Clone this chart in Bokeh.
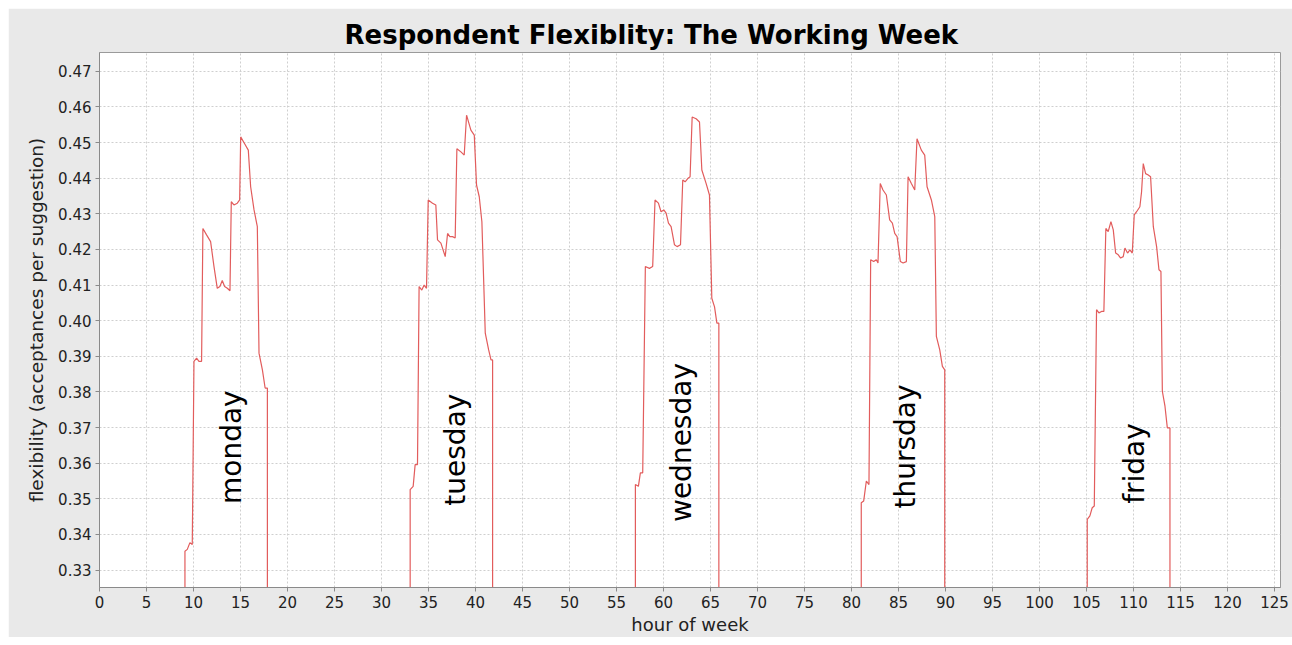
from bokeh.plotting import figure
from bokeh.models import Range1d, FixedTicker, Title, ColumnDataSource, PrintfTickFormatter
from bokeh.core.properties import value
from bokeh.embed import file_html
from bokeh.resources import INLINE
import math

# ---------------- data ----------------
mon_hours = [9.09, 9.34, 9.62, 9.87, 10.05, 10.33, 10.58, 10.86, 11.0, 11.39, 11.82, 12.18, 12.53, 12.81,
             13.06, 13.31, 13.6, 13.88, 14.02, 14.3, 14.66, 14.91, 15.02, 15.44, 15.83, 16.08, 16.44,
             16.79, 16.97, 17.33, 17.62, 17.86]
mon_flex = [0.3353, 0.3358, 0.3377, 0.3372, 0.3886, 0.3895, 0.3886, 0.3886, 0.4259, 0.4241, 0.4222, 0.4152,
            0.4091, 0.4096, 0.4113, 0.4096, 0.4091, 0.4084, 0.4334, 0.4325, 0.4330, 0.4339, 0.4516, 0.4497,
            0.4479, 0.4376, 0.4311, 0.4264, 0.3909, 0.3862, 0.3811, 0.3811]

tue_hours = [33.05, 33.37, 33.58, 33.83, 34.0, 34.29, 34.54, 34.79, 34.97, 35.43, 35.78, 35.96, 36.32, 36.78,
             37.03, 37.27, 37.56, 37.84, 38.02, 38.45, 38.8, 39.05, 39.51, 39.87, 40.11, 40.4, 40.68, 41.04,
             41.4, 41.65, 41.82]
tue_flex = [0.3526, 0.3535, 0.3596, 0.3596, 0.4096, 0.4086, 0.4100, 0.4091, 0.4339, 0.4330, 0.4325, 0.4227,
            0.4218, 0.4180, 0.4245, 0.4236, 0.4236, 0.4232, 0.4483, 0.4474, 0.4465, 0.4577, 0.4535, 0.4521,
            0.4381, 0.4348, 0.4278, 0.3965, 0.3918, 0.3890, 0.3890]

wed_hours = [57.01, 57.33, 57.54, 57.79, 58.07, 58.5, 58.85, 59.1, 59.46, 59.74, 60.03, 60.28, 60.53, 60.81,
             61.17, 61.45, 61.81, 62.05, 62.3, 62.58, 62.83, 63.05, 63.47, 63.83, 64.08, 64.54, 64.89, 65.14,
             65.43, 65.68, 65.89]
wed_flex = [0.3540, 0.3535, 0.3573, 0.3573, 0.4152, 0.4147, 0.4152, 0.4339, 0.4330, 0.4306, 0.4311, 0.4302,
            0.4274, 0.4264, 0.4213, 0.4208, 0.4213, 0.4395, 0.4390, 0.4399, 0.4404, 0.4572, 0.4567, 0.4558,
            0.4423, 0.4385, 0.4353, 0.4063, 0.4039, 0.3993, 0.3993]

thu_hours = [81.04, 81.3, 81.58, 81.86, 82.04, 82.36, 82.64, 82.82, 83.06, 83.35, 83.71, 84.06, 84.35, 84.6,
             84.85, 85.2, 85.49, 85.84, 86.02, 86.37, 86.73, 86.97, 87.43, 87.79, 88.04, 88.5, 88.86, 89.03,
             89.39, 89.67, 89.92]
thu_flex = [0.3489, 0.3494, 0.3550, 0.3540, 0.4171, 0.4166, 0.4171, 0.4162, 0.4385, 0.4367, 0.4353, 0.4283,
            0.4274, 0.4245, 0.4236, 0.4166, 0.4162, 0.4166, 0.4404, 0.4385, 0.4367, 0.4511, 0.4479, 0.4465,
            0.4376, 0.4339, 0.4292, 0.3956, 0.3918, 0.3872, 0.3862]

fri_hours = [105.08, 105.36, 105.61, 105.83, 106.07, 106.32, 106.6, 106.85, 107.06, 107.31, 107.6, 107.85,
             108.1, 108.38, 108.63, 108.91, 109.09, 109.37, 109.62, 109.87, 110.08, 110.33, 110.68, 110.86,
             111.04, 111.29, 111.57, 111.82, 112.11, 112.46, 112.71, 112.92, 113.07, 113.35, 113.6, 113.88]
fri_flex = [0.3442, 0.3452, 0.3475, 0.3480, 0.4031, 0.4022, 0.4026, 0.4026, 0.4259, 0.4250, 0.4278, 0.4255,
            0.4190, 0.4185, 0.4176, 0.4180, 0.4204, 0.4190, 0.4199, 0.4190, 0.4297, 0.4306, 0.4320, 0.4362,
            0.4441, 0.4413, 0.4409, 0.4404, 0.4264, 0.4208, 0.4143, 0.4138, 0.3802, 0.3760, 0.3699, 0.3699]

day_names = ["monday", "tuesday", "wednesday", "thursday", "friday"]
off_hours_flex = 0.0  # flexibility outside the working day (below the visible range)

x_ticks = list(range(0, 130, 5))
y_ticks = [0.33, 0.34, 0.35, 0.36, 0.37, 0.38, 0.39, 0.40, 0.41, 0.42, 0.43, 0.44, 0.45, 0.46, 0.47]

# ---------------- build the week series ----------------
days = [(mon_hours, mon_flex), (tue_hours, tue_flex), (wed_hours, wed_flex),
        (thu_hours, thu_flex), (fri_hours, fri_flex)]
wx, wy = [0.0], [off_hours_flex]
for hrs, flx in days:
    wx += [hrs[0]] + hrs + [hrs[-1]]
    wy += [off_hours_flex] + flx + [off_hours_flex]
wx.append(125.6)
wy.append(off_hours_flex)

# ---------------- figure ----------------
p = figure(width=1284, height=629, output_backend="svg", toolbar_location=None,
           x_range=Range1d(0, 125.64), y_range=Range1d(0.3251, 0.4753),
           min_border_left=91, min_border_right=12, min_border_top=44, min_border_bottom=48,
           title=None, margin=(8, 0, 0, 8))
p.border_fill_color = "#e9e9e9"
p.background_fill_color = "white"
p.outline_line_color = "#9a9a9a"

t = Title(text="Respondent Flexiblity: The Working Week", align="left", offset=245,
          text_font="DejaVu Sans", text_font_size="26px", text_font_style="bold",
          text_color="black", standoff=6)
p.add_layout(t, "above")

p.line(wx, wy, line_color="#e25c5c", line_width=1.2)

# day labels
lab_src = ColumnDataSource(dict(x=[14.06, 37.9, 61.9, 85.7, 110.06],
                                y=[0.3645, 0.3638, 0.3658, 0.3647, 0.3599],
                                text=day_names))
p.text(x="x", y="y", text="text", source=lab_src, angle=math.pi / 2,
       text_align="center", text_baseline="middle",
       text_font=value("DejaVu Sans"), text_font_size="28px", text_color="black")

# axes
for ax in (p.xaxis[0], p.yaxis[0]):
    ax.axis_line_color = "#8a8a8a"
    ax.major_tick_line_color = "#8a8a8a"
    ax.major_tick_out = 4
    ax.major_tick_in = 0
    ax.minor_tick_line_color = None
    ax.major_label_text_font = "DejaVu Sans"
    ax.major_label_text_font_size = "15px"
    ax.major_label_text_color = "#222222"
    ax.axis_label_text_font = "DejaVu Sans"
    ax.axis_label_text_font_style = "normal"
    ax.axis_label_text_color = "#222222"

p.xaxis.axis_label_text_font_size = "18px"
p.yaxis.axis_label_text_font_size = "18.5px"
p.xaxis.ticker = FixedTicker(ticks=x_ticks)
p.yaxis.ticker = FixedTicker(ticks=y_ticks)
p.yaxis.formatter = PrintfTickFormatter(format="%.2f")
p.xaxis.axis_label = "hour of week"
p.yaxis.axis_label = "flexibility (acceptances per suggestion)"
p.xaxis.major_label_standoff = 4
p.xaxis.axis_label_standoff = 3
p.yaxis.major_label_standoff = 4
p.yaxis.axis_label_standoff = 8

for g in (p.xgrid[0], p.ygrid[0]):
    g.grid_line_color = "#cfcfcf"
    g.grid_line_dash = "2 2"
    g.grid_line_width = 1

open("out.html", "w").write(file_html(p, INLINE))
